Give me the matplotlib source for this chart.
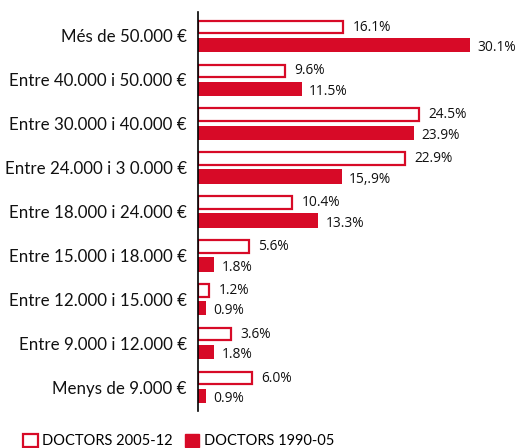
import matplotlib
matplotlib.use('Agg')
import matplotlib.pyplot as plt
from matplotlib.patches import Patch
import numpy as np

categories = ['Més de 50.000 €', 'Entre 40.000 i 50.000 €', 'Entre 30.000 i 40.000 €',
              'Entre 24.000 i 3 0.000 €', 'Entre 18.000 i 24.000 €', 'Entre 15.000 i 18.000 €',
              'Entre 12.000 i 15.000 €', 'Entre 9.000 i 12.000 €', 'Menys de 9.000 €']
doctors_2005_12 = [16.1, 9.6, 24.5, 22.9, 10.4, 5.6, 1.2, 3.6, 6.0]
doctors_1990_05 = [30.1, 11.5, 23.9, 15.9, 13.3, 1.8, 0.9, 1.8, 0.9]
labels_2005_12 = ['16.1%', '9.6%', '24.5%', '22.9%', '10.4%', '5.6%', '1.2%', '3.6%', '6.0%']
labels_1990_05 = ['30.1%', '11.5%', '23.9%', '15,.9%', '13.3%', '1.8%', '0.9%', '1.8%', '0.9%']

red = '#D70A27'
txt = '#111111'

fig = plt.figure(figsize=(5.16, 4.48), dpi=100)
ax = fig.add_axes([198 / 516, 1 - 411 / 448, 318 / 516, 399 / 448])

y = np.arange(len(categories))
h = 0.29
off = 0.205

ax.barh(y - off, doctors_2005_12, height=h, facecolor='white', edgecolor=red, linewidth=1.6)
ax.barh(y + off, doctors_1990_05, height=h + 0.04, color=red, linewidth=0)

for i in range(len(categories)):
    ax.text(doctors_2005_12[i] + 1.05, y[i] - off, labels_2005_12[i], va='center', ha='left',
            fontsize=9.9, color=txt, family='Open Sans')
    ax.text(doctors_1990_05[i] + 0.8, y[i] + off + 0.06, labels_1990_05[i], va='center', ha='left',
            fontsize=9.9, color=txt, family='Open Sans')

ax.set_xlim(0, 318 / 9.03)
ax.set_ylim(8.547, -0.547)
ax.set_yticks(y)
ax.set_yticklabels(categories, fontsize=12.2, family='Lato', color=txt)
ax.tick_params(axis='y', length=0, pad=8)
ax.set_xticks([])
for s in ['top', 'right', 'bottom']:
    ax.spines[s].set_visible(False)
ax.spines['left'].set_linewidth(1.2)
ax.spines['left'].set_color('black')

handles = [Patch(facecolor='white', edgecolor=red, linewidth=1.6, label='DOCTORS 2005-12'),
           Patch(facecolor=red, edgecolor=red, label='DOCTORS 1990-05')]
fig.legend(handles=handles, loc='lower left', bbox_to_anchor=(0.02, -0.03), ncol=2, frameon=False,
           handlelength=1.0, handleheight=1.0, handletextpad=0.3, columnspacing=0.8,
           prop={'family': 'Lato', 'size': 10.5})

fig.savefig('out.png', dpi=100)
